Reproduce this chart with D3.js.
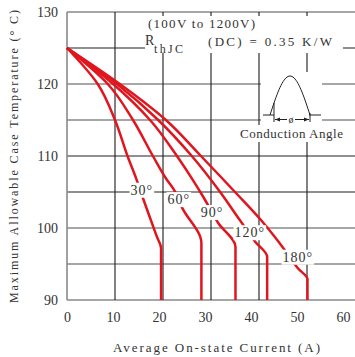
<!DOCTYPE html>
<html>
<head>
<meta charset="utf-8">
<script src="https://cdn.jsdelivr.net/npm/d3@7"></script>
<style>
  html, body { margin: 0; padding: 0; background: #fff; }
  svg { display: block; }
  text { fill: #333; font-family: "Liberation Serif", "DejaVu Serif", serif; }
</style>
</head>
<body>
<div id="chart"></div>
<script>
// curves: [current A, case temp °C]
const curve30 = [[0, 125], [6.4, 120], [10.0, 115], [12.6, 110], [14.4, 106.9], [15.8, 104.2], [18.75, 98.75], [19.6, 97.2], [19.6, 90]];
const curve60 = [[0, 125], [8.5, 120], [13.75, 115], [17.9, 110], [20.8, 106.7], [22.3, 105.3], [24.0, 102.8], [28.0, 97.9], [28.0, 90]];
const curve90 = [[0, 125], [9.6, 120], [17.3, 115], [22.9, 110], [26.0, 106.9], [28.5, 104.2], [31.5, 100.7], [35.1, 97.4], [35.1, 90]];
const curve120 = [[0, 125], [10.4, 120], [19.0, 115], [26.0, 110], [31.9, 105], [36.0, 101.1], [39.2, 98.1], [41.7, 96.0], [41.7, 90]];
const curve180 = [[0, 125], [11.0, 120], [20.6, 115], [27.9, 110], [35.0, 105], [40.8, 100.8], [45.2, 97.1], [48.1, 94.4], [50.1, 92.9], [50.1, 90]];

const angleLabels = ['30°', '60°', '90°', '120°', '180°'];
const labelCurrent = [15.6, 23.3, 30.2, 38.1, 48.1];
const labelTemp = [105.3, 104.0, 102.2, 99.4, 96.0];

const xTicks = [0, 10, 20, 30, 40, 50, 60];
const yTicks = [90, 100, 110, 120, 130];
const yGrid = [90, 95, 100, 105, 110, 115, 120, 125, 130];
const xGrid = [10, 20, 30, 40, 50];
const darkRows = [125, 110, 105];

const width = 355;
const height = 357;

const svg = d3.select('#chart').append('svg')
  .attr('width', width)
  .attr('height', height);

svg.append('rect').attr('width', width).attr('height', height).attr('fill', '#fff');

// scales (grid lines run a bit wider than the printed tick labels)
const x = d3.scaleLinear().domain([0, 60]).range([67, 355]);
const xText = d3.scaleLinear().domain([0, 60]).range([67, 343]);
const y = d3.scaleLinear().domain([90, 130]).range([300, 12]);

// horizontal grid
svg.append('g')
  .selectAll('line')
  .data(yGrid)
  .join('line')
  .attr('x1', x(0))
  .attr('x2', x(60))
  .attr('y1', d => y(d))
  .attr('y2', d => y(d))
  .attr('stroke', d => darkRows.includes(d) ? '#222' : '#8a8a8a')
  .attr('stroke-width', d => darkRows.includes(d) ? 1.2 : 1.6);

// vertical grid
svg.append('g')
  .selectAll('line')
  .data(xGrid)
  .join('line')
  .attr('x1', d => x(d))
  .attr('x2', d => x(d))
  .attr('y1', y(130))
  .attr('y2', y(90))
  .attr('stroke', '#1a1a1a')
  .attr('stroke-width', 1.1);

svg.append('line')
  .attr('x1', x(0)).attr('x2', x(0))
  .attr('y1', y(130)).attr('y2', y(90))
  .attr('stroke', '#8a8a8a')
  .attr('stroke-width', 1.6);

// curves
const line = d3.line()
  .x(d => x(d[0]))
  .y(d => y(d[1]))
  .curve(d3.curveMonotoneY);

svg.append('g')
  .selectAll('path')
  .data([curve30, curve60, curve90, curve120, curve180])
  .join('path')
  .attr('fill', 'none')
  .attr('stroke', '#e0161f')
  .attr('stroke-width', 2.5)
  .attr('d', line);

// angle labels with white boxes
const labels = svg.append('g');
angleLabels.forEach((t, i) => {
  const g = labels.append('g');
  const txt = g.append('text')
    .attr('x', x(labelCurrent[i]))
    .attr('y', y(labelTemp[i]))
    .attr('dy', '0.35em')
    .attr('text-anchor', 'middle')
    .style('font-size', '14px')
    .style('letter-spacing', '1px')
    .text(t);
  const b = txt.node().getBBox();
  g.insert('rect', 'text')
    .attr('x', b.x - 1)
    .attr('y', b.y)
    .attr('width', b.width + 2)
    .attr('height', b.height)
    .attr('fill', '#fff');
});

// Rth annotation
svg.append('rect').attr('x', 145).attr('y', 16).attr('width', 198).attr('height', 37).attr('fill', '#fff');
svg.append('text').attr('x', 148).attr('y', 28).style('font-size', '13px')
  .attr('textLength', 107).attr('lengthAdjust', 'spacing').text('(100V to 1200V)');
svg.append('text').attr('x', 145).attr('y', 45).style('font-size', '14px').text('R');
svg.append('text').attr('x', 154).attr('y', 53).style('font-size', '12px')
  .attr('textLength', 29).attr('lengthAdjust', 'spacing').text('thJC');
svg.append('text').attr('x', 208).attr('y', 46).style('font-size', '13px')
  .attr('textLength', 124).attr('lengthAdjust', 'spacing').text('(DC) = 0.35 K/W');

// conduction angle sketch
svg.append('rect').attr('x', 261).attr('y', 72).attr('width', 61).attr('height', 53).attr('fill', '#fff');
svg.append('rect').attr('x', 238).attr('y', 125).attr('width', 107).attr('height', 17).attr('fill', '#fff');

const wx = d3.scaleLinear().domain([0, Math.PI]).range([270, 310]);
const wy = d3.scaleLinear().domain([0, 1]).range([115, 76]);
svg.append('path')
  .attr('fill', 'none')
  .attr('stroke', '#222')
  .attr('stroke-width', 1)
  .attr('d', d3.line().x(d => wx(d)).y(d => wy(Math.sin(d)))(d3.range(0, Math.PI + 0.01, Math.PI / 40)));

const wave = svg.append('g').attr('stroke', '#222').attr('stroke-width', 1);
wave.append('line').attr('x1', 263).attr('x2', 274).attr('y1', 115).attr('y2', 115);
wave.append('line').attr('x1', 309).attr('x2', 321).attr('y1', 115).attr('y2', 115);
wave.append('line').attr('x1', 274).attr('x2', 274).attr('y1', wy(Math.sin(wx.invert(274)))).attr('y2', 122);
wave.append('line').attr('x1', 310).attr('x2', 310).attr('y1', 113).attr('y2', 122);
wave.append('line').attr('x1', 275).attr('x2', 309).attr('y1', 119.5).attr('y2', 119.5);
svg.append('path').attr('fill', '#222').attr('d', 'M275,119.5 l5,-2 v4 z');
svg.append('path').attr('fill', '#222').attr('d', 'M309,119.5 l-5,-2 v4 z');
svg.append('rect').attr('x', 287).attr('y', 114).attr('width', 8).attr('height', 10).attr('fill', '#fff');
svg.append('text').attr('x', 291).attr('y', 122.5).attr('text-anchor', 'middle')
  .style('font-size', '10px').text('ø');
svg.append('text').attr('x', 240).attr('y', 138).style('font-size', '13px')
  .attr('textLength', 103).attr('lengthAdjust', 'spacing').text('Conduction Angle');

// axes tick labels
const xAxis = d3.axisBottom(xText).tickValues(xTicks).tickSize(0).tickPadding(12);
svg.append('g')
  .attr('transform', 'translate(0,' + y(90) + ')')
  .call(xAxis)
  .call(g => g.select('.domain').remove())
  .selectAll('text')
  .style('font-size', '14px')
  .style('font-family', '"Liberation Serif", serif')
  .attr('fill', '#333');

const yAxis = d3.axisLeft(y).tickValues(yTicks).tickSize(0).tickPadding(9);
svg.append('g')
  .attr('transform', 'translate(' + x(0) + ',0)')
  .call(yAxis)
  .call(g => g.select('.domain').remove())
  .selectAll('text')
  .style('font-size', '14px')
  .style('font-family', '"Liberation Serif", serif')
  .attr('fill', '#333');

// axis titles
svg.append('text')
  .attr('x', 113)
  .attr('y', 352)
  .style('font-size', '13px')
  .attr('textLength', 207)
  .attr('lengthAdjust', 'spacing')
  .text('Average On-state Current (A)');

svg.append('text')
  .attr('transform', 'translate(18,303) rotate(-90)')
  .style('font-size', '12px')
  .attr('textLength', 293)
  .attr('lengthAdjust', 'spacing')
  .text('Maximum Allowable Case Temperature (° C)');
</script>
</body>
</html>
